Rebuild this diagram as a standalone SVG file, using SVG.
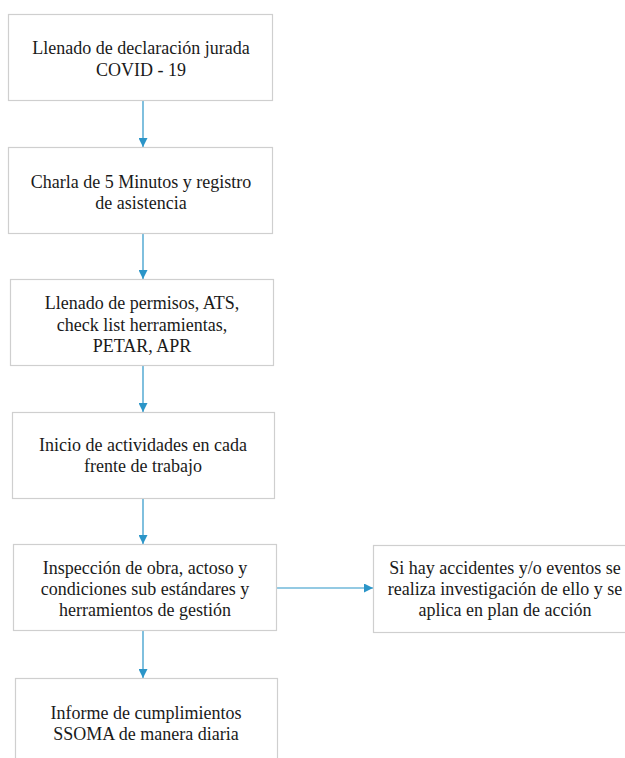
<svg xmlns="http://www.w3.org/2000/svg" width="625" height="758" viewBox="0 0 625 758">
<style>
.box{fill:#fff;stroke:#cfcfcf;stroke-width:1.2}
.t{font-family:'Liberation Serif','DejaVu Serif','Times New Roman',Times,serif;font-size:18px;fill:#1a1a1a;text-anchor:middle}
.c{stroke:#2b95c8;stroke-width:1.2;fill:none}
</style>
<defs>
<marker id="ah" viewBox="0 0 10 10" refX="10" refY="5" markerWidth="9" markerHeight="9" markerUnits="userSpaceOnUse" orient="auto">
<path d="M0,0 L10,5 L0,10 z" fill="#2b95c8"/>
</marker>
</defs>
<rect width="625" height="758" fill="#fff"/>
<g id="connectors">
<line class="c" x1="143" y1="100" x2="143" y2="147" marker-end="url(#ah)"/>
<line class="c" x1="143" y1="233" x2="143" y2="279" marker-end="url(#ah)"/>
<line class="c" x1="143" y1="365" x2="143" y2="412" marker-end="url(#ah)"/>
<line class="c" x1="143" y1="498" x2="143" y2="544" marker-end="url(#ah)"/>
<line class="c" x1="143" y1="630" x2="143" y2="678" marker-end="url(#ah)"/>
<line class="c" x1="276" y1="588" x2="373" y2="588" marker-end="url(#ah)"/>
</g>
<g id="n1">
<rect class="box" x="8.5" y="14.5" width="264" height="86"/>
<text class="t" x="141" y="54">Llenado de declaración jurada</text>
<text class="t" x="141" y="76">COVID - 19</text>
</g>
<g id="n2">
<rect class="box" x="8.5" y="147.5" width="264" height="86"/>
<text class="t" x="141" y="188">Charla de 5 Minutos y registro</text>
<text class="t" x="141" y="209">de asistencia</text>
</g>
<g id="n3">
<rect class="box" x="10.5" y="279.5" width="263" height="86"/>
<text class="t" x="142" y="309">Llenado de permisos, ATS,</text>
<text class="t" x="142" y="331">check list herramientas,</text>
<text class="t" x="142" y="352">PETAR, APR</text>
</g>
<g id="n4">
<rect class="box" x="12.5" y="412.5" width="262" height="86"/>
<text class="t" x="143" y="451">Inicio de actividades en cada</text>
<text class="t" x="143" y="472">frente de trabajo</text>
</g>
<g id="n5">
<rect class="box" x="13.5" y="544.5" width="263" height="86"/>
<text class="t" x="145" y="574">Inspección de obra, actoso y</text>
<text class="t" x="145" y="595">condiciones sub estándares y</text>
<text class="t" x="145" y="616">herramientos de gestión</text>
</g>
<g id="n6">
<rect class="box" x="15.5" y="678.5" width="262" height="100"/>
<text class="t" x="146" y="719">Informe de cumplimientos</text>
<text class="t" x="146" y="740">SSOMA de manera diaria</text>
</g>
<g id="n7">
<rect class="box" x="373.5" y="545.5" width="264" height="87"/>
<text class="t" x="505" y="574">Si hay accidentes y/o eventos se</text>
<text class="t" x="505" y="595">realiza investigación de ello y se</text>
<text class="t" x="505" y="616">aplica en plan de acción</text>
</g>
</svg>
